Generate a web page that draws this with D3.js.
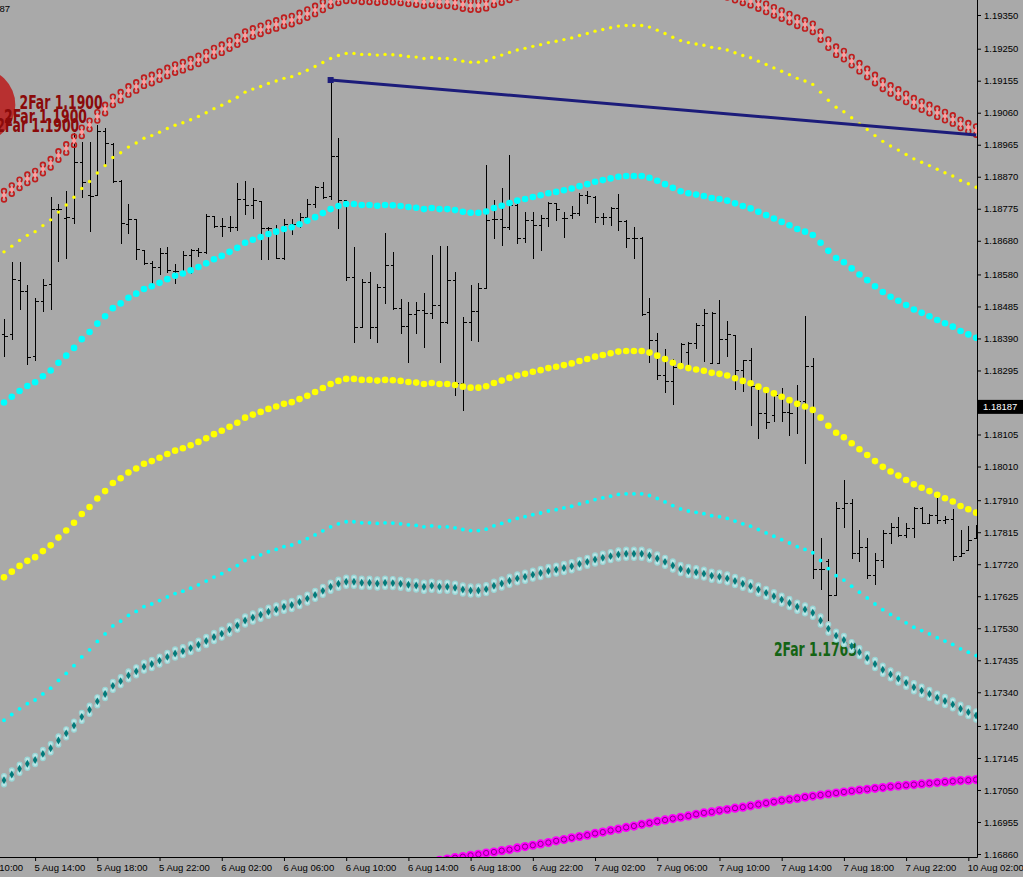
<!DOCTYPE html>
<meta charset="utf-8">
<script src="https://cdn.jsdelivr.net/npm/d3@7"></script>
<style>
body { margin: 0; background: #a9a9a9; }
svg { display: block; }
.axis text { font-family: "Liberation Sans", Arial, sans-serif; font-size: 9.5px; fill: #000; }
.axis line, .axis path { stroke: #000; }
.bar { stroke: #000; stroke-width: 1; shape-rendering: crispEdges; }
.far { font-family: "Liberation Sans Narrow", "DejaVu Sans Condensed", sans-serif; font-weight: bold; font-size: 19px; }
</style>
<body>
<svg id="chart" width="1023" height="877"></svg>
<script>
// EURUSD M30, bars 5 Aug 12:00 .. 10 Aug 02:30 (index 0..125)
var opens = [1.18403,1.18403,1.18564,1.18531,1.18338,1.18501,1.18552,1.18774,1.18748,1.18748,
1.18914,1.18816,1.18816,1.19006,1.18967,1.18857,1.18730,1.18745,1.18653,1.18614,
1.18602,1.18644,1.18590,1.18590,1.18638,1.18653,1.18647,1.18753,1.18724,1.18721,
1.18721,1.18804,1.18786,1.18798,1.18718,1.18715,1.18629,1.18730,1.18727,1.18750,
1.18789,1.18840,1.18813,1.18932,1.18801,1.18572,1.18424,1.18558,1.18424,1.18543,
1.18608,1.18481,1.18427,1.18463,1.18475,1.18466,1.18489,1.18439,1.18564,1.18258,
1.18439,1.18472,1.18540,1.18745,1.18745,1.18721,1.18786,1.18688,1.18742,1.18727,
1.18748,1.18792,1.18748,1.18756,1.18762,1.18816,1.18810,1.18750,1.18750,1.18777,
1.18739,1.18688,1.18688,1.18469,1.18386,1.18282,1.18264,1.18305,1.18350,1.18377,
1.18430,1.18317,1.18317,1.18389,1.18400,1.18296,1.18326,1.18249,1.18169,1.18163,
1.18216,1.18172,1.18204,1.18204,1.18308,1.17706,1.17730,1.17629,1.17887,1.17902,
1.17753,1.17771,1.17688,1.17733,1.17813,1.17831,1.17807,1.17828,1.17887,1.17842,
1.17866,1.17851,1.17854,1.17744,1.17762,1.17798];
var highs = [1.18448,1.18617,1.18617,1.18549,1.18510,1.18567,1.18810,1.18789,1.18828,1.19000,
1.18973,1.18973,1.19024,1.19015,1.18970,1.18860,1.18789,1.18745,1.18653,1.18620,
1.18659,1.18661,1.18611,1.18650,1.18656,1.18659,1.18759,1.18753,1.18748,1.18753,
1.18851,1.18857,1.18837,1.18798,1.18721,1.18727,1.18745,1.18745,1.18762,1.18804,
1.18843,1.18854,1.19163,1.18985,1.18801,1.18661,1.18567,1.18587,1.18552,1.18703,
1.18647,1.18507,1.18498,1.18498,1.18525,1.18638,1.18664,1.18664,1.18587,1.18454,
1.18549,1.18555,1.18905,1.18801,1.18837,1.18935,1.18792,1.18765,1.18765,1.18756,
1.18795,1.18792,1.18765,1.18783,1.18822,1.18828,1.18813,1.18762,1.18780,1.18819,
1.18742,1.18721,1.18691,1.18510,1.18406,1.18359,1.18329,1.18377,1.18380,1.18436,
1.18478,1.18469,1.18504,1.18442,1.18400,1.18326,1.18362,1.18252,1.18240,1.18231,
1.18243,1.18210,1.18252,1.18457,1.18332,1.17798,1.17736,1.17905,1.17970,1.17914,
1.17822,1.17798,1.17753,1.17822,1.17842,1.17860,1.17842,1.17890,1.17890,1.17869,
1.17917,1.17863,1.17884,1.17822,1.17834,1.17836];
var lows = [1.18338,1.18388,1.18478,1.18314,1.18326,1.18472,1.18478,1.18620,1.18629,1.18733,
1.18810,1.18709,1.18816,1.18905,1.18854,1.18673,1.18703,1.18626,1.18611,1.18543,
1.18581,1.18587,1.18555,1.18578,1.18584,1.18635,1.18644,1.18721,1.18694,1.18709,
1.18712,1.18759,1.18748,1.18626,1.18626,1.18629,1.18626,1.18700,1.18721,1.18736,
1.18780,1.18807,1.18804,1.18718,1.18564,1.18380,1.18424,1.18391,1.18380,1.18495,
1.18478,1.18406,1.18320,1.18406,1.18365,1.18451,1.18320,1.18436,1.18222,1.18178,
1.18386,1.18383,1.18540,1.18688,1.18667,1.18715,1.18673,1.18676,1.18629,1.18653,
1.18724,1.18742,1.18691,1.18748,1.18756,1.18792,1.18736,1.18730,1.18727,1.18712,
1.18661,1.18629,1.18460,1.18320,1.18270,1.18231,1.18196,1.18302,1.18305,1.18362,
1.18323,1.18317,1.18317,1.18338,1.18240,1.18234,1.18133,1.18095,1.18124,1.18145,
1.18145,1.18104,1.18110,1.18020,1.17679,1.17647,1.17555,1.17629,1.17831,1.17739,
1.17730,1.17679,1.17661,1.17712,1.17783,1.17804,1.17801,1.17801,1.17842,1.17842,
1.17842,1.17842,1.17733,1.17744,1.17762,1.17798];
var closes = [1.18397,1.18567,1.18531,1.18335,1.18501,1.18549,1.18774,1.18774,1.18750,1.18914,
1.18854,1.18813,1.19006,1.18970,1.18857,1.18733,1.18745,1.18655,1.18614,1.18602,
1.18644,1.18593,1.18590,1.18638,1.18653,1.18647,1.18753,1.18724,1.18724,1.18721,
1.18804,1.18786,1.18801,1.18718,1.18718,1.18629,1.18730,1.18730,1.18750,1.18789,
1.18840,1.18810,1.18932,1.18801,1.18572,1.18424,1.18558,1.18424,1.18543,1.18608,
1.18481,1.18427,1.18463,1.18475,1.18466,1.18489,1.18439,1.18564,1.18258,1.18439,
1.18472,1.18540,1.18742,1.18745,1.18721,1.18786,1.18688,1.18742,1.18727,1.18748,
1.18792,1.18774,1.18748,1.18762,1.18816,1.18813,1.18750,1.18750,1.18777,1.18739,
1.18688,1.18688,1.18463,1.18386,1.18282,1.18264,1.18305,1.18374,1.18377,1.18430,
1.18466,1.18466,1.18389,1.18403,1.18296,1.18326,1.18249,1.18169,1.18142,1.18222,
1.18172,1.18169,1.18204,1.18308,1.17706,1.17706,1.17629,1.17887,1.17902,1.17753,
1.17771,1.17688,1.17733,1.17813,1.17831,1.17807,1.17828,1.17887,1.17842,1.17866,
1.17851,1.17854,1.17744,1.17753,1.17792,1.17813];

// band lines, one value per bar
var farUpper = [1.18815,1.18832,1.18849,1.18864,1.18875,1.18893,1.18910,1.18933,1.18954,1.18977,
1.19003,1.19024,1.19049,1.19071,1.19095,1.19109,1.19126,1.19138,1.19152,1.19160,
1.19170,1.19181,1.19191,1.19198,1.19207,1.19217,1.19228,1.19240,1.19250,1.19262,
1.19274,1.19289,1.19298,1.19306,1.19315,1.19322,1.19330,1.19335,1.19344,1.19354,
1.19365,1.19377,1.19389,1.19398,1.19404,1.19404,1.19401,1.19401,1.19399,1.19401,
1.19400,1.19398,1.19395,1.19393,1.19389,1.19392,1.19389,1.19389,1.19386,1.19381,
1.19378,1.19378,1.19382,1.19392,1.19399,1.19407,1.19414,1.19419,1.19425,1.19430,
1.19436,1.19440,1.19445,1.19450,1.19457,1.19463,1.19470,1.19475,1.19480,1.19485,
1.19487,1.19487,1.19487,1.19482,1.19473,1.19463,1.19452,1.19442,1.19436,1.19432,
1.19428,1.19422,1.19419,1.19414,1.19406,1.19398,1.19391,1.19381,1.19371,1.19361,
1.19351,1.19341,1.19330,1.19322,1.19312,1.19289,1.19265,1.19244,1.19231,1.19213,
1.19195,1.19178,1.19160,1.19143,1.19129,1.19117,1.19104,1.19091,1.19081,1.19071,
1.19060,1.19050,1.19040,1.19027,1.19017,1.19007];
var outerUpper = [1.18647,1.18664,1.18681,1.18696,1.18707,1.18725,1.18742,1.18765,1.18786,1.18809,
1.18835,1.18856,1.18881,1.18903,1.18927,1.18941,1.18958,1.18970,1.18984,1.18992,
1.19002,1.19013,1.19023,1.19030,1.19039,1.19049,1.19060,1.19072,1.19082,1.19094,
1.19106,1.19121,1.19130,1.19138,1.19147,1.19154,1.19162,1.19167,1.19176,1.19186,
1.19197,1.19209,1.19221,1.19230,1.19236,1.19236,1.19233,1.19233,1.19231,1.19233,
1.19232,1.19230,1.19227,1.19225,1.19221,1.19224,1.19221,1.19221,1.19218,1.19213,
1.19210,1.19210,1.19214,1.19224,1.19231,1.19239,1.19246,1.19251,1.19257,1.19262,
1.19268,1.19272,1.19277,1.19282,1.19289,1.19295,1.19302,1.19307,1.19312,1.19317,
1.19319,1.19319,1.19319,1.19314,1.19305,1.19295,1.19284,1.19274,1.19268,1.19264,
1.19260,1.19254,1.19251,1.19246,1.19238,1.19230,1.19223,1.19213,1.19203,1.19193,
1.19183,1.19173,1.19162,1.19154,1.19144,1.19121,1.19097,1.19076,1.19063,1.19045,
1.19027,1.19010,1.18992,1.18975,1.18961,1.18949,1.18936,1.18923,1.18913,1.18903,
1.18892,1.18882,1.18872,1.18859,1.18849,1.18839];
var innerUpper = [1.18200,1.18217,1.18234,1.18249,1.18260,1.18278,1.18295,1.18318,1.18339,1.18362,
1.18388,1.18409,1.18434,1.18456,1.18480,1.18494,1.18511,1.18523,1.18537,1.18545,
1.18555,1.18566,1.18576,1.18583,1.18592,1.18602,1.18613,1.18625,1.18635,1.18647,
1.18659,1.18674,1.18683,1.18691,1.18700,1.18707,1.18715,1.18720,1.18729,1.18739,
1.18750,1.18762,1.18774,1.18783,1.18789,1.18789,1.18786,1.18786,1.18784,1.18786,
1.18785,1.18783,1.18780,1.18778,1.18774,1.18777,1.18774,1.18774,1.18771,1.18766,
1.18763,1.18763,1.18767,1.18777,1.18784,1.18792,1.18799,1.18804,1.18810,1.18815,
1.18821,1.18825,1.18830,1.18835,1.18842,1.18848,1.18855,1.18860,1.18865,1.18870,
1.18872,1.18872,1.18872,1.18867,1.18858,1.18848,1.18837,1.18827,1.18821,1.18817,
1.18813,1.18807,1.18804,1.18799,1.18791,1.18783,1.18776,1.18766,1.18756,1.18746,
1.18736,1.18726,1.18715,1.18707,1.18697,1.18674,1.18650,1.18629,1.18616,1.18598,
1.18580,1.18563,1.18545,1.18528,1.18514,1.18502,1.18489,1.18476,1.18466,1.18456,
1.18445,1.18435,1.18425,1.18412,1.18402,1.18392];
var middle = [1.17681,1.17698,1.17715,1.17730,1.17741,1.17759,1.17776,1.17799,1.17820,1.17843,
1.17869,1.17890,1.17915,1.17937,1.17961,1.17975,1.17992,1.18004,1.18018,1.18026,
1.18036,1.18047,1.18057,1.18064,1.18073,1.18083,1.18094,1.18106,1.18116,1.18128,
1.18140,1.18155,1.18164,1.18172,1.18181,1.18188,1.18196,1.18201,1.18210,1.18220,
1.18231,1.18243,1.18255,1.18264,1.18270,1.18270,1.18267,1.18267,1.18265,1.18267,
1.18266,1.18264,1.18261,1.18259,1.18255,1.18258,1.18255,1.18255,1.18252,1.18247,
1.18244,1.18244,1.18248,1.18258,1.18265,1.18273,1.18280,1.18285,1.18291,1.18296,
1.18302,1.18306,1.18311,1.18316,1.18323,1.18329,1.18336,1.18341,1.18346,1.18351,
1.18353,1.18353,1.18353,1.18348,1.18339,1.18329,1.18318,1.18308,1.18302,1.18298,
1.18294,1.18288,1.18285,1.18280,1.18272,1.18264,1.18257,1.18247,1.18237,1.18227,
1.18217,1.18207,1.18196,1.18188,1.18178,1.18155,1.18131,1.18110,1.18097,1.18079,
1.18061,1.18044,1.18026,1.18009,1.17995,1.17983,1.17970,1.17957,1.17947,1.17937,
1.17926,1.17916,1.17906,1.17893,1.17883,1.17873];
var innerLower = [1.17257,1.17274,1.17291,1.17306,1.17317,1.17335,1.17352,1.17375,1.17396,1.17419,
1.17445,1.17466,1.17491,1.17513,1.17537,1.17551,1.17568,1.17580,1.17594,1.17602,
1.17612,1.17623,1.17633,1.17640,1.17649,1.17659,1.17670,1.17682,1.17692,1.17704,
1.17716,1.17731,1.17740,1.17748,1.17757,1.17764,1.17772,1.17777,1.17786,1.17796,
1.17807,1.17819,1.17831,1.17840,1.17846,1.17846,1.17843,1.17843,1.17841,1.17843,
1.17842,1.17840,1.17837,1.17835,1.17831,1.17834,1.17831,1.17831,1.17828,1.17823,
1.17820,1.17820,1.17824,1.17834,1.17841,1.17849,1.17856,1.17861,1.17867,1.17872,
1.17878,1.17882,1.17887,1.17892,1.17899,1.17905,1.17912,1.17917,1.17922,1.17927,
1.17929,1.17929,1.17929,1.17924,1.17915,1.17905,1.17894,1.17884,1.17878,1.17874,
1.17870,1.17864,1.17861,1.17856,1.17848,1.17840,1.17833,1.17823,1.17813,1.17803,
1.17793,1.17783,1.17772,1.17764,1.17754,1.17731,1.17707,1.17686,1.17673,1.17655,
1.17637,1.17620,1.17602,1.17585,1.17571,1.17559,1.17546,1.17533,1.17523,1.17513,
1.17502,1.17492,1.17482,1.17469,1.17459,1.17449];
var farLower = [1.17079,1.17096,1.17113,1.17128,1.17139,1.17157,1.17174,1.17197,1.17218,1.17241,
1.17267,1.17288,1.17313,1.17335,1.17359,1.17373,1.17390,1.17402,1.17416,1.17424,
1.17434,1.17445,1.17455,1.17462,1.17471,1.17481,1.17492,1.17504,1.17514,1.17526,
1.17538,1.17553,1.17562,1.17570,1.17579,1.17586,1.17594,1.17599,1.17608,1.17618,
1.17629,1.17641,1.17653,1.17662,1.17668,1.17668,1.17665,1.17665,1.17663,1.17665,
1.17664,1.17662,1.17659,1.17657,1.17653,1.17656,1.17653,1.17653,1.17650,1.17645,
1.17642,1.17642,1.17646,1.17656,1.17663,1.17671,1.17678,1.17683,1.17689,1.17694,
1.17700,1.17704,1.17709,1.17714,1.17721,1.17727,1.17734,1.17739,1.17744,1.17749,
1.17751,1.17751,1.17751,1.17746,1.17737,1.17727,1.17716,1.17706,1.17700,1.17696,
1.17692,1.17686,1.17683,1.17678,1.17670,1.17662,1.17655,1.17645,1.17635,1.17625,
1.17615,1.17605,1.17594,1.17586,1.17576,1.17553,1.17529,1.17508,1.17495,1.17477,
1.17459,1.17442,1.17424,1.17407,1.17393,1.17381,1.17368,1.17355,1.17345,1.17335,
1.17324,1.17314,1.17304,1.17291,1.17281,1.17271];
// slow average, starts at bar 55
var slowStart = 55;
var slowLine = [1.16836,1.16841,1.16845,1.16849,1.16852,1.16856,1.16859,1.16863,1.16866,1.16870,
1.16873,1.16878,1.16882,1.16886,1.16890,1.16894,1.16899,1.16903,1.16908,1.16912,
1.16916,1.16921,1.16925,1.16930,1.16934,1.16939,1.16943,1.16948,1.16952,1.16957,
1.16961,1.16965,1.16969,1.16973,1.16978,1.16982,1.16985,1.16989,1.16992,1.16996,
1.16999,1.17003,1.17007,1.17011,1.17015,1.17019,1.17022,1.17025,1.17029,1.17032,
1.17035,1.17038,1.17041,1.17044,1.17047,1.17050,1.17052,1.17055,1.17057,1.17060,
1.17062,1.17064,1.17066,1.17068,1.17070,1.17072,1.17074,1.17076,1.17078,1.17079,
1.17081];

var priceTicks = [1.19350,1.19250,1.19155,1.19060,1.18965,1.18870,1.18775,1.18680,1.18580,1.18485,
1.18390,1.18295,1.18200,1.18105,1.18010,1.17910,1.17815,1.17720,1.17625,1.17530,
1.17435,1.17340,1.17240,1.17145,1.17050,1.16955,1.16860];
var timeTickBars = [-4,4,12,20,28,36,44,52,60,68,76,84,92,100,108,116,124];
var timeTickLabels = ["5 Aug 10:00","5 Aug 14:00","5 Aug 18:00","5 Aug 22:00","6 Aug 02:00","6 Aug 06:00",
"6 Aug 10:00","6 Aug 14:00","6 Aug 18:00","6 Aug 22:00","7 Aug 02:00","7 Aug 06:00","7 Aug 10:00",
"7 Aug 14:00","7 Aug 18:00","7 Aug 22:00","10 Aug 02:00"];

var lastPrice = 1.18187;
var trendBars = [42, 125];
var trendPrices = [1.19157, 1.18994];
var farLabels = [
    {text: "2Far 1.1900", bar: 2, price: 1.19071, color: "#8b0a0a"},
    {text: "2Far 1.1900", bar: 0, price: 1.19030, color: "#8b0a0a"},
    {text: "2Far 1.1900", bar: -1, price: 1.19003, color: "#8b0a0a"},
    {text: "2Far 1.1763", bar: 99, price: 1.17448, color: "#146414"}
];
var farMark = {bar: -3.3, price: 1.19083};

let svg = d3.select("#chart");
let W = 977, H = 857;

let x = d3.scaleLinear().domain([0, 125]).range([4, 976.1]);
let y = d3.scaleLinear().domain([1.168511, 1.193945]).range([H, 0]);

svg.append("rect").attr("width", 1023).attr("height", 877).attr("fill", "#a9a9a9");

svg.append("clipPath").attr("id", "plot")
    .append("rect").attr("width", W).attr("height", H);

let g = svg.append("g").attr("clip-path", "url(#plot)");

// ohlc bars
let bars = g.append("g").selectAll("g")
    .data(opens.map(function(o, i) { return {i: i, o: o, h: highs[i], l: lows[i], c: closes[i]}; }))
    .enter().append("g");
function bx(d) { return Math.round(x(d.i)) + 0.5; }
bars.append("line").attr("class", "bar")
    .attr("x1", bx).attr("x2", bx)
    .attr("y1", function(d) { return Math.round(y(d.h)); })
    .attr("y2", function(d) { return Math.round(y(d.l)) + 1; });
bars.append("line").attr("class", "bar")
    .attr("x1", function(d) { return bx(d) - 3; }).attr("x2", bx)
    .attr("y1", function(d) { return Math.round(y(d.o)) + 0.5; })
    .attr("y2", function(d) { return Math.round(y(d.o)) + 0.5; });
bars.append("line").attr("class", "bar")
    .attr("x1", bx).attr("x2", function(d) { return bx(d) + 3; })
    .attr("y1", function(d) { return Math.round(y(d.c)) + 0.5; })
    .attr("y2", function(d) { return Math.round(y(d.c)) + 0.5; });

// text labels and marker under the bands
g.append("circle")
    .attr("cx", x(farMark.bar)).attr("cy", y(farMark.price)).attr("r", 37)
    .attr("fill", "#b83030");
g.append("g").selectAll("text")
    .data(farLabels)
    .enter().append("text")
    .attr("class", "far")
    .attr("x", function(d) { return x(d.bar); })
    .attr("y", function(d) { return y(d.price); })
    .attr("fill", function(d) { return d.color; })
    .attr("textLength", 83).attr("lengthAdjust", "spacingAndGlyphs")
    .text(function(d) { return d.text; });

function pts(arr, start) {
    return arr.map(function(v, k) { return {i: k + (start || 0), v: v}; });
}
function dots(arr, r, fill, start) {
    g.append("g").selectAll("circle")
        .data(pts(arr, start))
        .enter().append("circle")
        .attr("cx", function(d) { return x(d.i); })
        .attr("cy", function(d) { return y(d.v); })
        .attr("r", r).attr("fill", fill);
}
// rope style: small rings above and below, diamond in the middle
function ropeBand(arr, ringFill, ringStroke, core, sw) {
    let sel = g.append("g").selectAll("g")
        .data(pts(arr))
        .enter().append("g")
        .attr("transform", function(d) { return "translate(" + x(d.i) + "," + y(d.v) + ")"; });
    [-4.2, 4.2].forEach(function(dy) {
        sel.append("circle").attr("cy", dy).attr("r", 2.4)
            .attr("fill", ringFill).attr("stroke", ringStroke).attr("stroke-width", sw);
    });
    sel.append("path")
        .attr("d", d3.symbol(d3.symbolDiamond, 18))
        .attr("fill", core);
}

ropeBand(farLower, "#bfe7e7", "#9ad6d6", "#007b7b", 1.2);
dots(innerLower, 1.9, "#00ffff");
dots(middle, 3.3, "#ffff00");
dots(innerUpper, 3.3, "#00ffff");
dots(outerUpper, 1.7, "#ffff00");
ropeBand(farUpper, "none", "#c01c1c", "#ff9c9c", 1.6);

// slow line
let slow = g.append("g").selectAll("g")
    .data(pts(slowLine, slowStart))
    .enter().append("g")
    .attr("transform", function(d) { return "translate(" + x(d.i) + "," + y(d.v) + ")"; });
slow.append("circle").attr("r", 4.6).attr("fill", "#ff00ff");
slow.append("circle").attr("r", 2.6).attr("fill", "none").attr("stroke", "#8c008c").attr("stroke-width", 1);

// trend line
g.append("line")
    .attr("x1", x(trendBars[0])).attr("y1", y(trendPrices[0]))
    .attr("x2", x(trendBars[1])).attr("y2", y(trendPrices[1]))
    .attr("stroke", "#1c1c7a").attr("stroke-width", 3);
g.append("rect")
    .attr("x", x(trendBars[0]) - 3).attr("y", y(trendPrices[0]) - 3)
    .attr("width", 6).attr("height", 6).attr("fill", "#1c1c7a");

// axes
svg.append("g").attr("class", "axis")
    .attr("transform", "translate(" + W + ",0)")
    .call(d3.axisRight(y).tickValues(priceTicks).tickFormat(d3.format(".5f")).tickSize(4).tickSizeOuter(0))
    .call(function(a) { a.select(".domain").remove(); });

svg.append("g").attr("class", "axis")
    .attr("transform", "translate(0," + H + ")")
    .call(d3.axisBottom(x).tickValues(timeTickBars)
        .tickFormat(function(d, i) { return timeTickLabels[i]; })
        .tickSize(4).tickSizeOuter(0))
    .call(function(a) {
        a.select(".domain").remove();
        a.selectAll("text").attr("text-anchor", "start").attr("x", -1);
    });

svg.append("line").attr("x1", W + 0.5).attr("x2", W + 0.5).attr("y1", 0).attr("y2", H + 0.5)
    .attr("stroke", "#000");
svg.append("line").attr("x1", 0).attr("x2", W + 0.5).attr("y1", H + 0.5).attr("y2", H + 0.5)
    .attr("stroke", "#000");

// last price label
let lp = svg.append("g").attr("transform", "translate(" + W + "," + y(lastPrice) + ")");
lp.append("rect").attr("x", 1).attr("y", -7).attr("width", 46).attr("height", 14).attr("fill", "#000");
lp.append("text").attr("x", 6).attr("dy", "0.34em")
    .style("font-family", "Liberation Sans, Arial, sans-serif").style("font-size", "9.5px")
    .attr("fill", "#fff").text(d3.format(".5f")(lastPrice));

// clipped copy of the price text at the top left
svg.append("text").attr("x", 10).attr("y", 12).attr("text-anchor", "end")
    .style("font-family", "Liberation Sans, Arial, sans-serif").style("font-size", "9.5px")
    .text(d3.format(".5f")(lastPrice));
</script>
</body>
